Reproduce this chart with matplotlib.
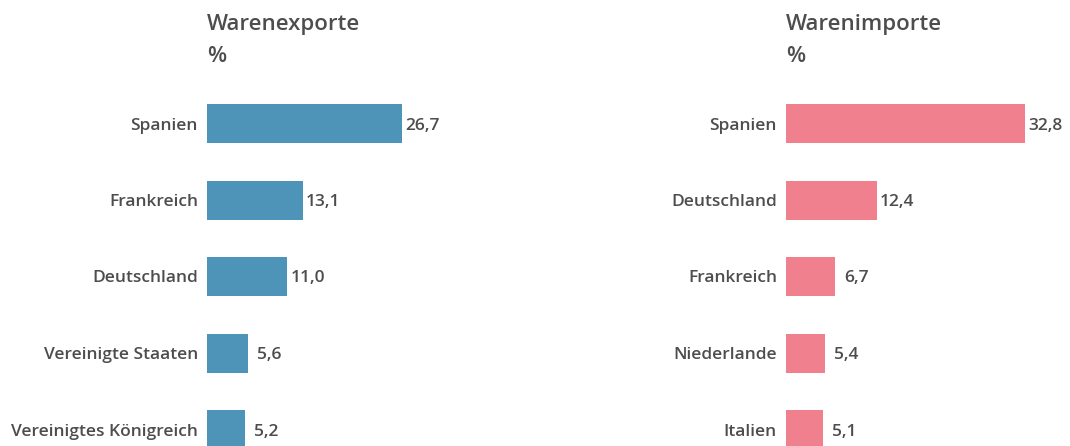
import matplotlib
matplotlib.use("Agg")
import matplotlib.pyplot as plt

exp_countries = ["Spanien", "Frankreich", "Deutschland", "Vereinigte Staaten", "Vereinigtes Königreich"]
exp_values = [26.7, 13.1, 11.0, 5.6, 5.2]
imp_countries = ["Spanien", "Deutschland", "Frankreich", "Niederlande", "Italien"]
imp_values = [32.8, 12.4, 6.7, 5.4, 5.1]
titles = ["Warenexporte", "Warenimporte"]
unit = "%"

W, H = 1070, 446
FONT = "Open Sans"
TXT = "#4d4d4d"
plt.rcParams["font.family"] = [FONT, "DejaVu Sans"]

fig = plt.figure(figsize=(W / 100, H / 100), dpi=100)

px_per_unit = 7.3
spacing = 76.5
top_center = 123.5
ax_top_px = top_center - spacing * 0.5
height_units = (H - ax_top_px) / spacing

def make_panel(left_px, xmax, cats, vals, color, title):
    width_px = xmax * px_per_unit
    ax = fig.add_axes([left_px / W, 0, width_px / W, (H - ax_top_px) / H])
    ys = list(range(len(cats)))
    ax.barh(ys, vals, height=39 / spacing, color=color, align="center")
    ax.set_xlim(0, xmax)
    ax.set_ylim(-0.5 + height_units, -0.5)
    ax.set_yticks(ys)
    ax.set_yticklabels(cats, fontsize=12.5, fontweight="semibold", color=TXT)
    ax.tick_params(axis="y", length=0, pad=6.5)
    ax.set_xticks([])
    for s in ax.spines.values():
        s.set_visible(False)
    for y, v in zip(ys, vals):
        off = 3 if v > 8 else 9
        ax.annotate(f"{v:.1f}".replace(".", ","), xy=(v, y), xytext=(off * 0.72, 0),
                    textcoords="offset points", va="center_baseline", ha="left",
                    fontsize=12.5, fontweight="semibold", color=TXT)
    fig.text(left_px / W, 1 - 30 / H, title, fontsize=16, fontweight="semibold",
             color=TXT, va="baseline", ha="left")
    fig.text(left_px / W, 1 - 62 / H, unit, fontsize=16, fontweight="semibold",
             color=TXT, va="baseline", ha="left")
    return ax

make_panel(207, 30, exp_countries, exp_values, "#4E93B8", titles[0])
make_panel(786, 37, imp_countries, imp_values, "#F0808E", titles[1])

fig.savefig("out.png", dpi=100, facecolor="white")
